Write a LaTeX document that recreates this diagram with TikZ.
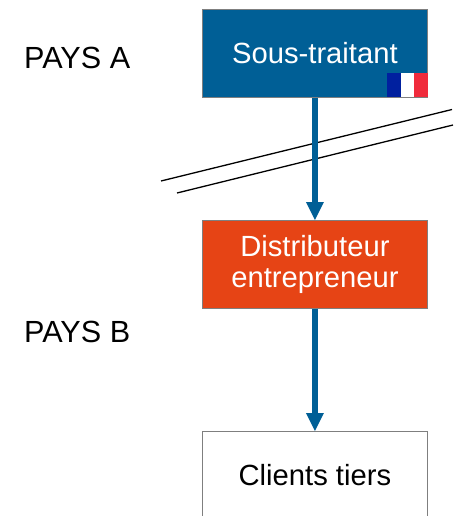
\documentclass[tikz,border=0pt]{standalone}
\usepackage{fontspec}
\setmainfont{Liberation Sans}
\definecolor{bluebox}{HTML}{005F96}
\definecolor{orangebox}{HTML}{E64415}
\definecolor{edgegrey}{HTML}{7F7F7F}
\definecolor{flagblue}{HTML}{00209F}
\definecolor{flagred}{HTML}{F02B3C}
\tikzset{
  box/.style={draw=edgegrey,line width=0.9pt,minimum width=225.5pt,minimum height=88pt,inner sep=0pt,anchor=north west,align=center,font=\fontsize{29.2}{31}\selectfont},
  flow/.style={draw=bluebox,line width=6pt},
  headtip/.style={fill=bluebox},
  border/.style={draw=black,line width=1.3pt},
  lbl/.style={font=\fontsize{30.6}{33}\selectfont,inner sep=0pt}
}
\begin{document}
\begin{tikzpicture}[x=1pt,y=-1pt]
\useasboundingbox (0,0) rectangle (453,516);
\clip (0,0) rectangle (453,516);
\coordinate (b1a) at (161,181);
\coordinate (b1b) at (452,109.5);
\coordinate (b2a) at (177,193);
\coordinate (b2b) at (453,125);
\draw[border] (b1a) -- (b1b);
\draw[border] (b2a) -- (b2b);
\node[box,fill=bluebox,text=white] (st) at (201.7,9) {Sous-traitant};
\node[box,fill=orangebox,text=white] (de) at (201.7,220) {Distributeur\\entrepreneur};
\node[box,fill=white,text=black] (ct) at (201.7,431) {Clients tiers};
\fill[flagblue] (387,73.5) rectangle (400.5,97.5);
\fill[white] (400.5,73.5) rectangle (414,97.5);
\fill[flagred] (414,73.5) rectangle (427.5,97.5);
\coordinate (h1) at ([yshift=18pt]de.north);
\coordinate (h2) at ([yshift=18pt]ct.north);
\draw[flow] (st.south) -- (h1);
\draw[flow] (de.south) -- (h2);
\fill[headtip] (de.north) -- ([xshift=-9pt]h1) -- ([xshift=9pt]h1) -- cycle;
\fill[headtip] (ct.north) -- ([xshift=-9pt]h2) -- ([xshift=9pt]h2) -- cycle;
\node[lbl,anchor=west] (pa) at (24,58) {PAYS A};
\node[lbl,anchor=west] (pb) at (24,332) {PAYS B};
\end{tikzpicture}
\end{document}
